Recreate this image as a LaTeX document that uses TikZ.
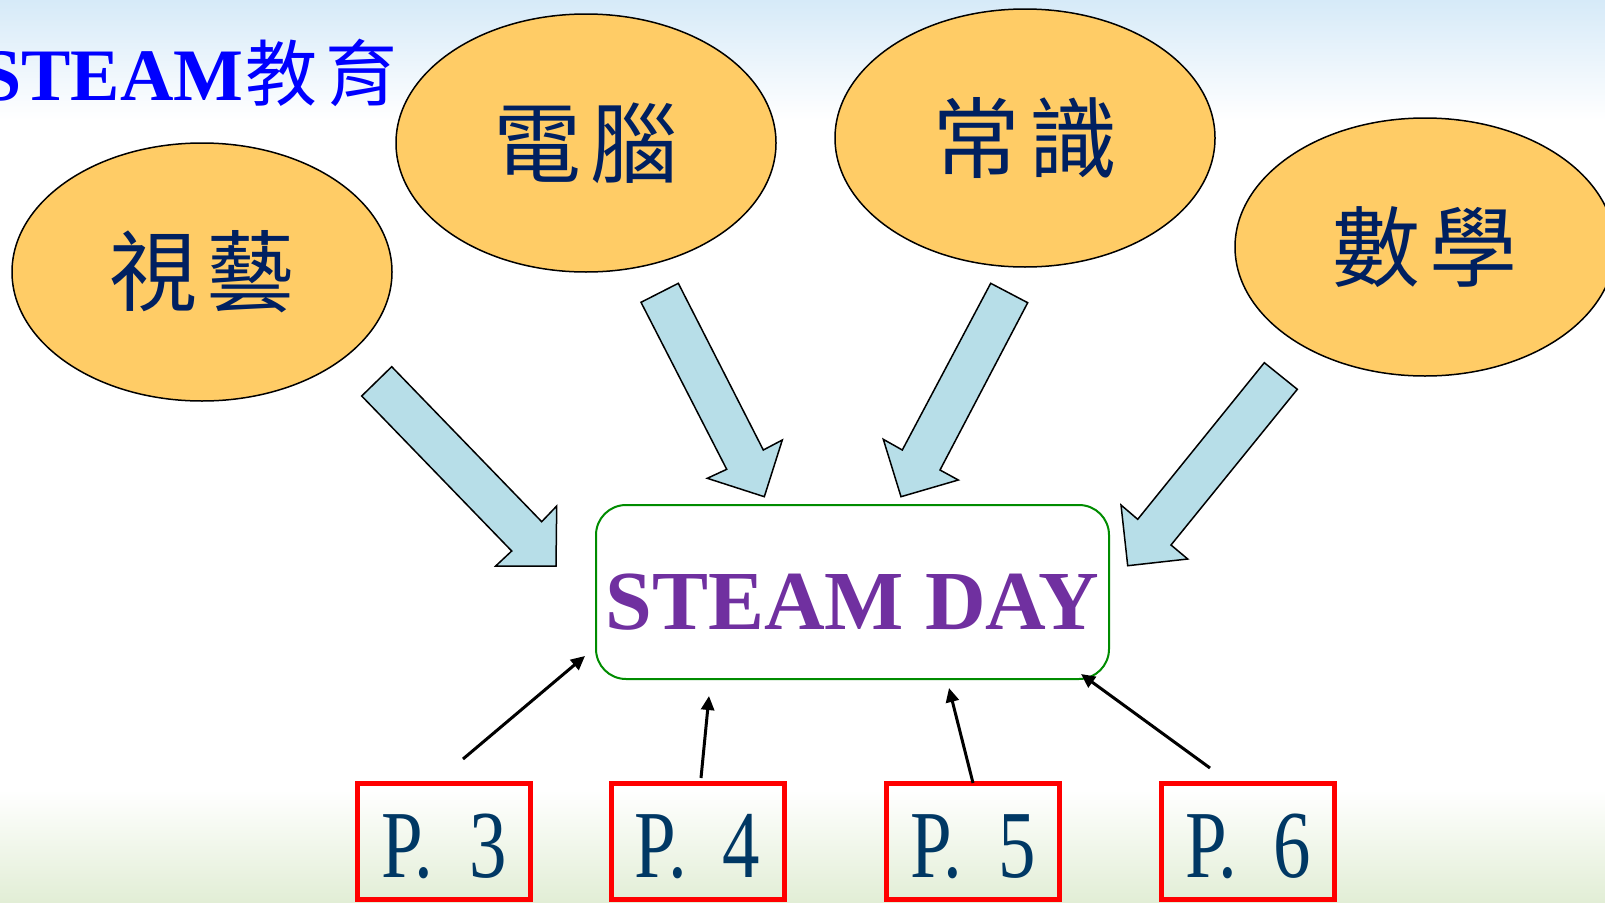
\documentclass[tikz,border=0pt]{standalone}
\usepackage{fontspec}
\setmainfont{Liberation Serif}
\newfontfamily\cjk{Noto Sans CJK TC}
\newfontfamily\pfont[FakeStretch=0.78]{Liberation Serif}
\usetikzlibrary{shapes.geometric,arrows.meta}
\definecolor{ellfill}{RGB}{255,204,102}
\definecolor{navy}{RGB}{0,32,96}
\definecolor{pnavy}{RGB}{0,56,100}
\definecolor{arrfill}{RGB}{183,222,232}
\definecolor{dayviolet}{RGB}{112,48,160}
\definecolor{daygreen}{RGB}{0,140,0}
\definecolor{sky}{RGB}{214,234,248}
\definecolor{meadow}{RGB}{226,238,214}
\tikzset{
  subj/.style={ellipse, draw=black, line width=1.5pt, fill=ellfill,
    minimum width=380pt, minimum height=258pt, inner sep=0pt, text=navy,
    font=\cjk\fontsize{88pt}{90pt}\selectfont},
  bigarrow/.style={draw=black, line width=1.5pt, fill=arrfill, line join=miter},
  gradebox/.style={draw=red, line width=5pt, minimum width=173pt, minimum height=116pt,
    inner sep=0pt, text=pnavy, font=\pfont\fontsize{96pt}{97pt}\selectfont,
    text height=72pt, text depth=0pt},
  daybox/.style={draw=daygreen, line width=2pt, fill=white, rounded corners=30pt,
    minimum width=513pt, minimum height=174pt, inner sep=0pt, text=dayviolet,
    font=\bfseries\fontsize{84pt}{85pt}\selectfont, text height=75pt, text depth=0pt},
  link/.style={draw=black, line width=3pt, -{Triangle[length=14pt,width=13pt]}},
}
\begin{document}
\begin{tikzpicture}[x=1pt,y=-1pt]
\useasboundingbox (0,0) rectangle (1605,902);
\clip (0,0) rectangle (1605,902);
% background
\fill[white] (0,0) rectangle (1605,902);
\shade[top color=sky, bottom color=white] (0,0) rectangle (1605,120);
\shade[top color=white, bottom color=meadow] (0,790) rectangle (1605,902);

% title
\node[anchor=base west, inner sep=0pt, text=blue, font=\bfseries\fontsize{74pt}{76pt}\selectfont]
  (title) at (-20,100) {STEAM{\cjk\mdseries\fontsize{72pt}{74pt}\selectfont\hspace{2pt}教\hspace{8pt}育}};

% subject ellipses
\node[subj] (vis)  at (202,272)  {視\hspace{10pt}藝};
\node[subj] (comp) at (586,143)  {電\hspace{10pt}腦};
\node[subj] (gen)  at (1025,138) {常\hspace{10pt}識};
\node[subj] (math) at (1425,247) {數\hspace{10pt}學};

% block arrows
\draw[bigarrow] (391.7,366.7) -- (541.7,521.7) -- (556.7,506) -- (556,566)
  -- (495.7,566) -- (511.7,551) -- (361.7,396) -- cycle;
\draw[bigarrow] (678.3,283.3) -- (763.3,450) -- (782.3,440) -- (764.3,496.7)
  -- (707.3,478.3) -- (726.7,469.3) -- (641,302.3) -- cycle;
\draw[bigarrow] (1027.7,302.7) -- (940,470) -- (958.3,480) -- (901,496.7)
  -- (883.3,439.3) -- (902.3,450) -- (990.7,283.3) -- cycle;
\draw[bigarrow] (1297.3,389.3) -- (1171,545) -- (1187.7,559) -- (1127.7,565.7)
  -- (1121,505) -- (1137.7,519.3) -- (1264.3,362.7) -- cycle;

% central box
\node[daybox] (day) at (852.5,592) {STEAM DAY};

% grade boxes
\node[gradebox] (p3) at (444,841)   {P.\hspace{36pt}3};
\node[gradebox] (p4) at (697.7,841) {P.\hspace{36pt}4};
\node[gradebox] (p5) at (973,841)   {P.\hspace{36pt}5};
\node[gradebox] (p6) at (1248,841)  {P.\hspace{36pt}6};

% small arrows
\coordinate (s3) at (463,759);  \coordinate (t3) at (585,656);
\coordinate (s4) at (701,778);  \coordinate (t4) at (709,696);
\coordinate (s5) at (973,783);  \coordinate (t5) at (949,688);
\coordinate (s6) at (1210,768); \coordinate (t6) at (1081,674);
\draw[link] (s3) -- (t3);
\draw[link] (s4) -- (t4);
\draw[link] (s5) -- (t5);
\draw[link] (s6) -- (t6);
\end{tikzpicture}
\end{document}
